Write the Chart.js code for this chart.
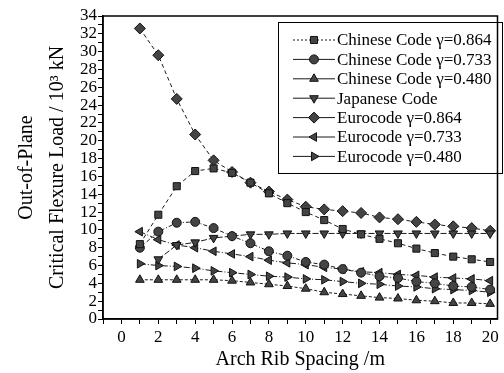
<!DOCTYPE html>
<html>
<head>
<meta charset="utf-8">
<script src="https://cdn.jsdelivr.net/npm/chart.js@4.4.1/dist/chart.umd.min.js"></script>
<style>
  html, body { margin: 0; padding: 0; background: #fff; }
  canvas { display: block; }
</style>
</head>
<body>
<canvas id="flexChart" width="504" height="373"></canvas>
<script>
// arch rib spacing (m)
const spacing = [1, 2, 3, 4, 5, 6, 7, 8, 9, 10, 11, 12, 13, 14, 15, 16, 17, 18, 19, 20];
// tick positions on the spacing axis (labels on the even ones)
const xTicks = [-1, 0, 1, 2, 3, 4, 5, 6, 7, 8, 9, 10, 11, 12, 13, 14, 15, 16, 17, 18, 19, 20];

// critical out-of-plane flexure load, 10^3 kN
const chinese864 = [8.4, 11.7, 14.9, 16.6, 16.9, 16.4, 15.3, 14.1, 13.0, 12.0, 11.1, 10.1, 9.5, 9.0, 8.5, 7.9, 7.4, 7.0, 6.7, 6.4];
const chinese733 = [8.0, 9.8, 10.8, 10.9, 10.2, 9.3, 8.5, 7.6, 7.1, 6.4, 6.1, 5.6, 5.2, 4.8, 4.6, 4.2, 4.0, 3.7, 3.6, 3.3];
const chinese480 = [4.4, 4.4, 4.4, 4.4, 4.4, 4.3, 4.1, 3.9, 3.7, 3.4, 3.0, 2.8, 2.6, 2.4, 2.3, 2.1, 2.0, 1.8, 1.8, 1.7];
const japanese = [null, 6.7, 8.3, 8.6, 9.1, 9.3, 9.5, 9.5, 9.6, 9.6, 9.6, 9.6, 9.6, 9.6, 9.6, 9.6, 9.6, 9.6, 9.6, 9.6];
const euro864 = [32.6, 29.6, 24.7, 20.7, 17.8, 16.5, 15.3, 14.3, 13.4, 12.6, 12.3, 12.1, 11.9, 11.4, 11.2, 10.9, 10.6, 10.4, 10.2, 9.9];
const euro733 = [9.8, 8.9, 8.3, 8.0, 7.6, 7.3, 7.0, 6.6, 6.3, 6.1, 5.8, 5.6, 5.3, 5.2, 5.0, 4.9, 4.7, 4.6, 4.5, 4.3];
const euro480 = [6.2, 6.0, 5.9, 5.7, 5.4, 5.2, 5.0, 4.8, 4.7, 4.5, 4.4, 4.2, 4.0, 3.9, 3.7, 3.6, 3.4, 3.3, 3.2, 3.0];

const seriesLabels = [
    'Chinese Code \u03B3=0.864',
    'Chinese Code \u03B3=0.733',
    'Chinese Code \u03B3=0.480',
    'Japanese Code',
    'Eurocode \u03B3=0.864',
    'Eurocode \u03B3=0.733',
    'Eurocode \u03B3=0.480'
];

const serif = "'Liberation Serif', 'Times New Roman', serif";

function pairs(values) {
    return spacing.map((x, i) => ({ x: x, y: values[i] }));
}

function makeSet(label, values, style, rotation, radius, dash) {
    return {
        label: label,
        data: pairs(values),
        borderColor: '#1a1a1a',
        borderWidth: 1,
        borderDash: dash,
        backgroundColor: '#3c3c3c',
        pointStyle: style,
        pointRotation: rotation,
        pointRadius: radius,
        pointBorderColor: '#111',
        pointBorderWidth: 1,
        pointBackgroundColor: '#444',
        fill: false,
        tension: 0,
        spanGaps: false
    };
}

// legend box drawn inside the plot, top right
const boxLegend = {
    id: 'boxLegend',
    afterDraw(chart) {
        const ctx = chart.ctx;
        const left = 278, top = 22, right = 502, bottom = 173;
        ctx.save();
        ctx.fillStyle = '#fff';
        ctx.fillRect(left, top, right - left, bottom - top);
        ctx.strokeStyle = '#000';
        ctx.lineWidth = 1;
        ctx.strokeRect(left + 0.5, top + 0.5, right - left, bottom - top);

        chart.data.datasets.forEach((ds, i) => {
            const y = 40 + i * 19.4;
            ctx.strokeStyle = ds.borderColor;
            ctx.lineWidth = 1;
            ctx.setLineDash(i === 0 ? [2, 2] : []);
            ctx.beginPath();
            ctx.moveTo(293, y);
            ctx.lineTo(335, y);
            ctx.stroke();
            ctx.setLineDash([]);
            ctx.fillStyle = ds.pointBackgroundColor;
            ctx.strokeStyle = ds.pointBorderColor;
            Chart.helpers.drawPoint(ctx, {
                pointStyle: ds.pointStyle,
                rotation: ds.pointRotation,
                radius: ds.pointRadius,
                borderWidth: 1
            }, 314, y);
            ctx.fillStyle = '#000';
            ctx.font = '17px ' + serif;
            ctx.textAlign = 'left';
            ctx.textBaseline = 'middle';
            ctx.fillText(ds.label, 337, y + 1);
        });
        ctx.restore();
    }
};

// closed frame round the plot
const plotFrame = {
    id: 'plotFrame',
    afterDraw(chart) {
        const a = chart.chartArea;
        const ctx = chart.ctx;
        ctx.save();
        ctx.strokeStyle = '#000';
        ctx.lineWidth = 1.5;
        ctx.strokeRect(a.left, a.top, a.right - a.left, a.bottom - a.top);
        ctx.restore();
    }
};

const ctx = document.getElementById('flexChart').getContext('2d');
const flexChart = new Chart(ctx, {
    type: 'line',
    data: {
        datasets: [
            makeSet(seriesLabels[0], chinese864, 'rect', 0, 5, [4, 3]),
            makeSet(seriesLabels[1], chinese733, 'circle', 0, 4.5, [4, 2, 1, 2]),
            makeSet(seriesLabels[2], chinese480, 'triangle', 0, 5, [3, 2]),
            makeSet(seriesLabels[3], japanese, 'triangle', 180, 5, [6, 2]),
            makeSet(seriesLabels[4], euro864, 'rectRot', 0, 5.5, [4, 3]),
            makeSet(seriesLabels[5], euro733, 'triangle', 270, 5, [6, 2, 1, 2]),
            makeSet(seriesLabels[6], euro480, 'triangle', 90, 5, [6, 2, 1, 2])
        ]
    },
    options: {
        responsive: false,
        animation: false,
        layout: { padding: { top: 16, right: 3, left: 0, bottom: 0 } },
        plugins: {
            legend: { display: false },
            tooltip: { enabled: false }
        },
        scales: {
            x: {
                type: 'linear',
                min: -1,
                max: 20.4,
                afterFit: s => { s.height = 54; },
                afterBuildTicks: s => { s.ticks = xTicks.map(v => ({ value: v })); },
                border: { display: true, color: '#000', width: 1.5 },
                grid: { drawOnChartArea: false, drawTicks: true, tickLength: 5, color: '#000' },
                ticks: {
                    autoSkip: false,
                    maxRotation: 0,
                    padding: 3,
                    color: '#000',
                    font: { family: serif, size: 17 },
                    callback: v => (v >= 0 && v % 2 === 0) ? String(v) : ''
                },
                title: {
                    display: true,
                    text: 'Arch Rib Spacing /m',
                    color: '#000',
                    font: { family: serif, size: 20, lineHeight: 1.2 },
                    padding: { top: 0, bottom: 1 }
                }
            },
            y: {
                min: 0,
                max: 34,
                afterFit: s => { s.width = 103; },
                border: { display: true, color: '#000', width: 1.5 },
                grid: { drawOnChartArea: false, drawTicks: true, tickLength: 5, color: '#000' },
                ticks: {
                    stepSize: 1,
                    autoSkip: false,
                    padding: 1,
                    color: '#000',
                    font: { family: serif, size: 17 },
                    callback: v => (v % 2 === 0) ? String(v) : ''
                },
                title: {
                    display: true,
                    text: ['Out-of-Plane', 'Critical Flexure Load / 10\u00B3 kN'],
                    color: '#000',
                    font: { family: serif, size: 20, lineHeight: 1.55 },
                    padding: { top: 11, bottom: 0 }
                }
            }
        }
    },
    plugins: [boxLegend, plotFrame]
});
</script>
</body>
</html>
